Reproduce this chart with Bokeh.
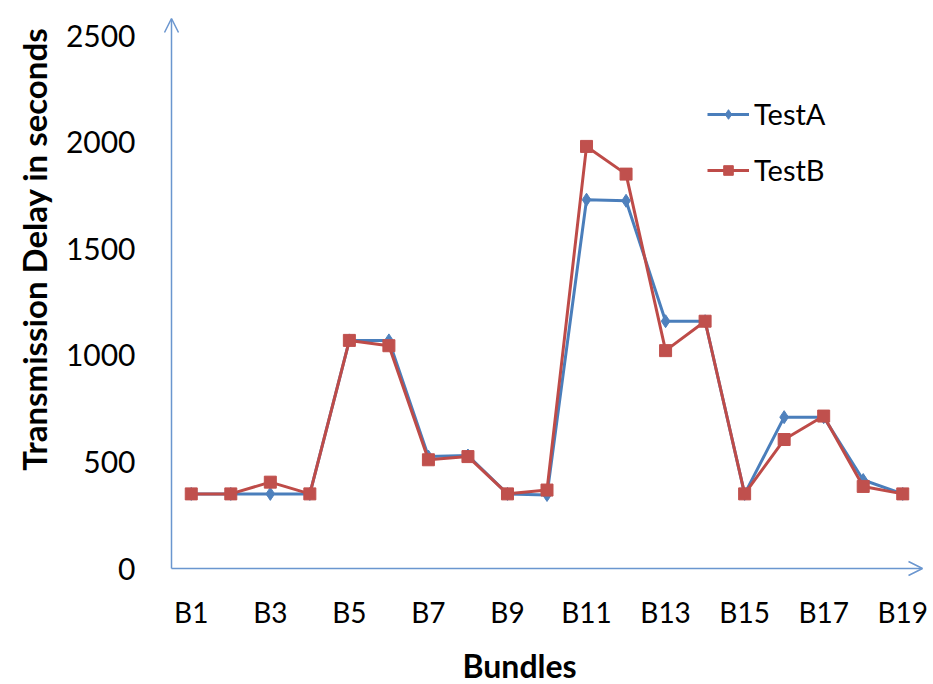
from bokeh.plotting import figure
from bokeh.models import (Range1d, FixedTicker, Arrow, OpenHead, Legend, LegendItem,
                          Title, ColumnDataSource, LinearAxis)
from bokeh.embed import file_html
from bokeh.resources import INLINE

# ---- data ----
bundles = ["B%d" % i for i in range(1, 20)]
test_a = [350, 350, 350, 350, 1070, 1070, 525, 530, 350, 345,
          1730, 1725, 1160, 1160, 350, 710, 710, 415, 350]
test_b = [350, 350, 405, 350, 1070, 1045, 510, 525, 350, 368,
          1980, 1850, 1022, 1160, 350, 605, 715, 385, 350]
y_ticks = [0, 500, 1000, 1500, 2000, 2500]
y_label = "Transmission Delay in seconds"
x_label = "Bundles"

FONT = "Lato"
BLUE = "#4A7EBB"
BLUE_M = "#4F81BD"
RED = "#BE4B48"
RED_M = "#C0504D"
AXIS = "#6A96CF"

n = len(bundles)
y_top = 2580                       # value at the tip of the y-axis arrow
px_x = 751 / n                     # pixels per category
px_y = 550 / y_top                 # pixels per unit of delay
pad = 8                            # frame padding so the arrow heads are not clipped

pos = list(range(1, n + 1))
src = ColumnDataSource(dict(x=pos, a=test_a, b=test_b, name=bundles))

p = figure(width=933, height=684, output_backend="svg", toolbar_location=None,
           x_range=Range1d(0.5 - pad / px_x, n + 0.5 + pad / px_x),
           y_range=Range1d(-pad / px_y, y_top + 10 / px_y),
           min_border_left=171 - pad, min_border_right=3, min_border_top=8,
           min_border_bottom=116 - pad)
p.outline_line_color = None
p.grid.visible = False
p.background_fill_color = "white"
p.border_fill_color = "white"

# axes
for ax in (p.xaxis[0], p.yaxis[0]):
    ax.axis_line_color = None
    ax.major_tick_line_color = None
    ax.minor_tick_line_color = None
    ax.major_tick_out = 0
    ax.major_tick_in = 0
    ax.minor_tick_out = 0
    ax.major_label_text_font = FONT
    ax.major_label_text_color = "black"

p.yaxis[0].ticker = FixedTicker(ticks=y_ticks)
p.yaxis[0].major_label_text_font_size = "30px"
p.yaxis[0].major_label_standoff = 28

p.xaxis[0].ticker = FixedTicker(ticks=[i + 1 for i in range(0, n, 2)])
p.xaxis[0].major_label_overrides = {i + 1: bundles[i] for i in range(0, n, 2)}
p.xaxis[0].major_label_text_font_size = "28px"
p.xaxis[0].major_label_standoff = 18

# invisible spacer axis between the tick labels and the x title
spacer = LinearAxis(ticker=FixedTicker(ticks=[1]), major_label_overrides={1: ""},
                    axis_line_color=None, major_tick_line_color=None,
                    minor_tick_line_color=None, major_tick_out=12, major_tick_in=0,
                    minor_tick_out=0, major_label_standoff=0,
                    major_label_text_font_size="1px")
p.add_layout(spacer, "below")

# x-axis title
p.add_layout(Title(text=x_label, align="left", offset=299, text_font=FONT,
                   text_font_size="32px", text_font_style="bold", text_color="black",
                   standoff=0), "below")

# y-axis title
p.add_layout(Title(text=y_label, align="right", offset=19, text_font=FONT,
                   text_font_size="33px", text_font_style="bold", text_color="black",
                   standoff=18), "left")

# axis lines with arrow heads
p.add_layout(Arrow(end=OpenHead(size=14, line_color=AXIS, line_width=1.5),
                   x_start=0.5, y_start=0, x_end=0.5, y_end=y_top,
                   line_color=AXIS, line_width=1.5))
p.add_layout(Arrow(end=OpenHead(size=14, line_color=AXIS, line_width=1.5),
                   x_start=0.5, y_start=0, x_end=n + 0.5, y_end=0,
                   line_color=AXIS, line_width=1.5))

# series
la = p.line("x", "a", source=src, line_color=BLUE, line_width=3)
ma = p.scatter("x", "a", source=src, marker="diamond", size=13,
               fill_color=BLUE_M, line_color=BLUE_M)
lb = p.line("x", "b", source=src, line_color=RED, line_width=3)
mb = p.scatter("x", "b", source=src, marker="square", size=12,
               fill_color=RED_M, line_color=RED_M)

legend = Legend(items=[LegendItem(label="TestA", renderers=[la, ma]),
                       LegendItem(label="TestB", renderers=[lb, mb])],
                location=(544, 389), border_line_color=None,
                background_fill_alpha=0, label_text_font=FONT,
                label_text_font_size="29px", label_text_color="black",
                glyph_width=42, glyph_height=24, label_height=24,
                label_standoff=5, spacing=21, padding=0, margin=0)
p.add_layout(legend)

open("out.html", "w").write(file_html(p, INLINE))
